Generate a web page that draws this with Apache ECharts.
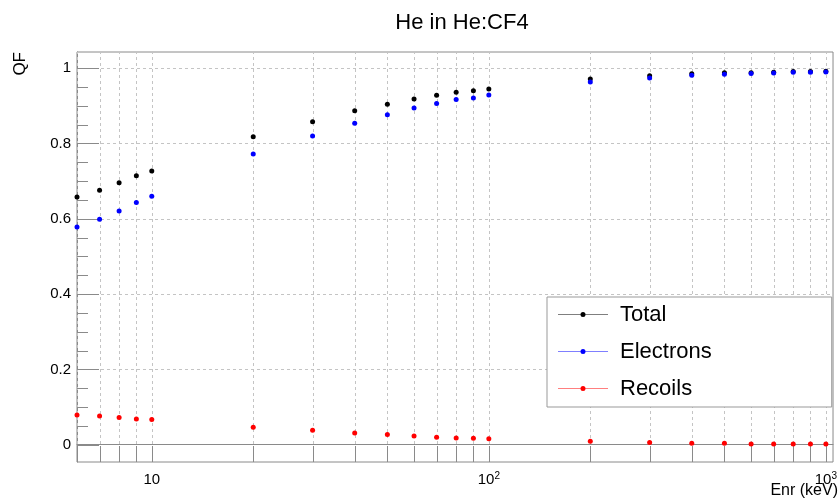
<!DOCTYPE html>
<html>
<head>
<meta charset="utf-8">
<title>He in He:CF4</title>
<script src="https://cdn.jsdelivr.net/npm/echarts@6/dist/echarts.min.js"></script>
<style>
  html, body { margin: 0; padding: 0; background: #fff; }
  #chart { width: 840px; height: 499px; }
</style>
</head>
<body>
<div id="chart"></div>
<script>
// Quenching factor of He recoils in He:CF4, vs. recoil energy
const energies  = [6, 7, 8, 9, 10, 20, 30, 40, 50, 60, 70, 80, 90, 100,
                   200, 300, 400, 500, 600, 700, 800, 900, 1000];
const total     = [0.658, 0.676, 0.696, 0.714, 0.727, 0.818, 0.858, 0.887, 0.904, 0.918, 0.928, 0.936, 0.940, 0.945,
                   0.971, 0.980, 0.985, 0.988, 0.988, 0.989, 0.991, 0.991, 0.992];
const electrons = [0.578, 0.599, 0.621, 0.643, 0.660, 0.772, 0.820, 0.854, 0.876, 0.894, 0.906, 0.917, 0.921, 0.929,
                   0.963, 0.974, 0.981, 0.984, 0.986, 0.987, 0.989, 0.989, 0.990];
const recoils   = [0.079, 0.076, 0.072, 0.068, 0.067, 0.046, 0.038, 0.031, 0.027, 0.023, 0.020, 0.018, 0.017, 0.016,
                   0.009, 0.006, 0.004, 0.004, 0.002, 0.002, 0.002, 0.002, 0.002];

// axis ranges and tick positions
const X_MIN = 6, X_MAX = 1050;
const Y_MIN = -0.046, Y_MAX = 1.043;
const xTickValues = [6, 7, 8, 9, 10, 20, 30, 40, 50, 60, 70, 80, 90, 100,
                     200, 300, 400, 500, 600, 700, 800, 900, 1000];
const yMajorTicks = [0, 0.2, 0.4, 0.6, 0.8, 1.0];
const yMinorTicks = [0.05, 0.1, 0.15, 0.25, 0.3, 0.35, 0.45, 0.5, 0.55,
                     0.65, 0.7, 0.75, 0.85, 0.9, 0.95];

const FONT = "'Liberation Sans', Arial, Helvetica, sans-serif";
const AXIS_COLOR = '#8a8a8a';
const GRID_COLOR = '#c4c4c4';

const crisp = v => Math.round(v) + 0.5;

// vertical dashed grid line + short tick at the bottom for every x tick value
function renderXGuides(params, api) {
  const x = api.value(0);
  const lo = api.coord([x, Y_MIN]);
  const hi = api.coord([x, Y_MAX]);
  const px = crisp(lo[0]);
  return {
    type: 'group',
    children: [
      { type: 'line', shape: { x1: px, y1: lo[1], x2: px, y2: hi[1] },
        style: { stroke: GRID_COLOR, lineWidth: 1, lineDash: [3, 3] } },
      { type: 'line', shape: { x1: px, y1: lo[1], x2: px, y2: lo[1] - 16 },
        style: { stroke: AXIS_COLOR, lineWidth: 1 } }
    ]
  };
}

// inward ticks on the left frame edge (long for labelled values, short otherwise)
function renderYTicks(params, api) {
  const y = api.value('y');
  const major = api.value('major') === 1;
  const p = api.coord([X_MIN, y]);
  const py = crisp(p[1]);
  return {
    type: 'line',
    shape: { x1: p[0], y1: py, x2: p[0] + (major ? 22 : 11), y2: py },
    style: { stroke: AXIS_COLOR, lineWidth: 1 }
  };
}

const legendIcon = 'path://M0,2.2H50V2.8H0Z M22.5,2.5A2.5,2.5 0 1 1 27.5,2.5A2.5,2.5 0 1 1 22.5,2.5Z';

const toPairs = ys => energies.map((e, i) => [e, ys[i]]);

const chart = echarts.init(document.getElementById('chart'), null, { renderer: 'canvas' });

chart.setOption({
  animation: false,
  backgroundColor: '#fff',
  textStyle: { fontFamily: FONT },
  title: {
    text: 'He in He:CF4',
    left: 457,
    top: 7,
    textAlign: 'center',
    textStyle: { fontFamily: FONT, fontSize: 22, fontWeight: 'normal', color: '#000' }
  },
  grid: {
    left: 77, right: 3, top: 52, bottom: 37,
    show: true, borderColor: AXIS_COLOR, borderWidth: 1, backgroundColor: '#fff'
  },
  legend: {
    orient: 'vertical',
    left: 547,
    top: 297,
    data: ['Total', 'Electrons', 'Recoils'],
    selectedMode: false,
    icon: legendIcon,
    itemWidth: 50,
    itemHeight: 5,
    itemGap: 12,
    padding: [5, 120, 6, 11],
    backgroundColor: '#fff',
    borderColor: '#999',
    borderWidth: 1,
    textStyle: { fontFamily: FONT, fontSize: 22, lineHeight: 25, color: '#000', padding: [0, 0, 0, 7] }
  },
  xAxis: {
    type: 'log',
    logBase: 10,
    min: X_MIN,
    max: X_MAX,
    axisLine: { show: true, lineStyle: { color: AXIS_COLOR } },
    axisTick: { show: false },
    splitLine: { show: false },
    axisLabel: {
      margin: 9,
      color: '#000',
      fontFamily: FONT,
      fontSize: 15,
      formatter: v => {
        const p = Math.log10(v);
        if (Math.abs(p - Math.round(p)) > 1e-9) return '';
        const k = Math.round(p);
        if (k === 1) return '{b|10}';
        return '{b|10}{s|' + k + '}';
      },
      rich: {
        b: { fontFamily: FONT, fontSize: 15, color: '#000', lineHeight: 18 },
        s: { fontFamily: FONT, fontSize: 10, color: '#000', verticalAlign: 'top', lineHeight: 10 }
      }
    }
  },
  yAxis: {
    type: 'value',
    min: Y_MIN,
    max: Y_MAX,
    splitNumber: 5,
    axisLine: { show: true, lineStyle: { color: AXIS_COLOR } },
    axisTick: { show: false },
    minorTick: { show: false },
    splitLine: { show: true, lineStyle: { color: GRID_COLOR, type: [3, 3], width: 1 } },
    axisLabel: {
      margin: 6,
      color: '#000',
      fontFamily: FONT,
      fontSize: 15,
      formatter: v => {
        const r = Math.round(v * 5);
        if (Math.abs(v * 5 - r) > 1e-6) return '';
        return String(r / 5);
      }
    }
  },
  graphic: [
    {
      type: 'text',
      x: 29, y: 52,
      rotation: Math.PI / 2,
      style: { text: 'QF', fontFamily: FONT, fontSize: 17, fill: '#000', textAlign: 'right', textVerticalAlign: 'bottom' },
      z: 10
    },
    {
      type: 'text',
      x: 838, y: 491,
      style: { text: 'Enr (keV)', fontFamily: FONT, fontSize: 16, fill: '#000', textAlign: 'right', textVerticalAlign: 'middle' },
      z: 10
    }
  ],
  series: [
    {
      type: 'custom',
      name: 'xguides',
      silent: true,
      z: 1,
      renderItem: renderXGuides,
      dimensions: ['x', 'y'],
      encode: { x: 0, y: 1 },
      data: xTickValues.map(v => [v, 0])
    },
    {
      type: 'custom',
      name: 'yticks',
      silent: true,
      z: 1,
      renderItem: renderYTicks,
      dimensions: ['x', 'y', 'major'],
      encode: { x: 0, y: 1 },
      data: yMajorTicks.map(v => [X_MIN, v, 1]).concat(yMinorTicks.map(v => [X_MIN, v, 0]))
    },
    {
      type: 'scatter', name: 'Total', data: toPairs(total),
      symbol: 'circle', symbolSize: 5, itemStyle: { color: '#000', opacity: 1 }, z: 3
    },
    {
      type: 'scatter', name: 'Electrons', data: toPairs(electrons),
      symbol: 'circle', symbolSize: 5, itemStyle: { color: '#0000ff', opacity: 1 }, z: 4
    },
    {
      type: 'scatter', name: 'Recoils', data: toPairs(recoils),
      symbol: 'circle', symbolSize: 5, itemStyle: { color: '#ff0000', opacity: 1 }, z: 5
    }
  ]
});
</script>
</body>
</html>
